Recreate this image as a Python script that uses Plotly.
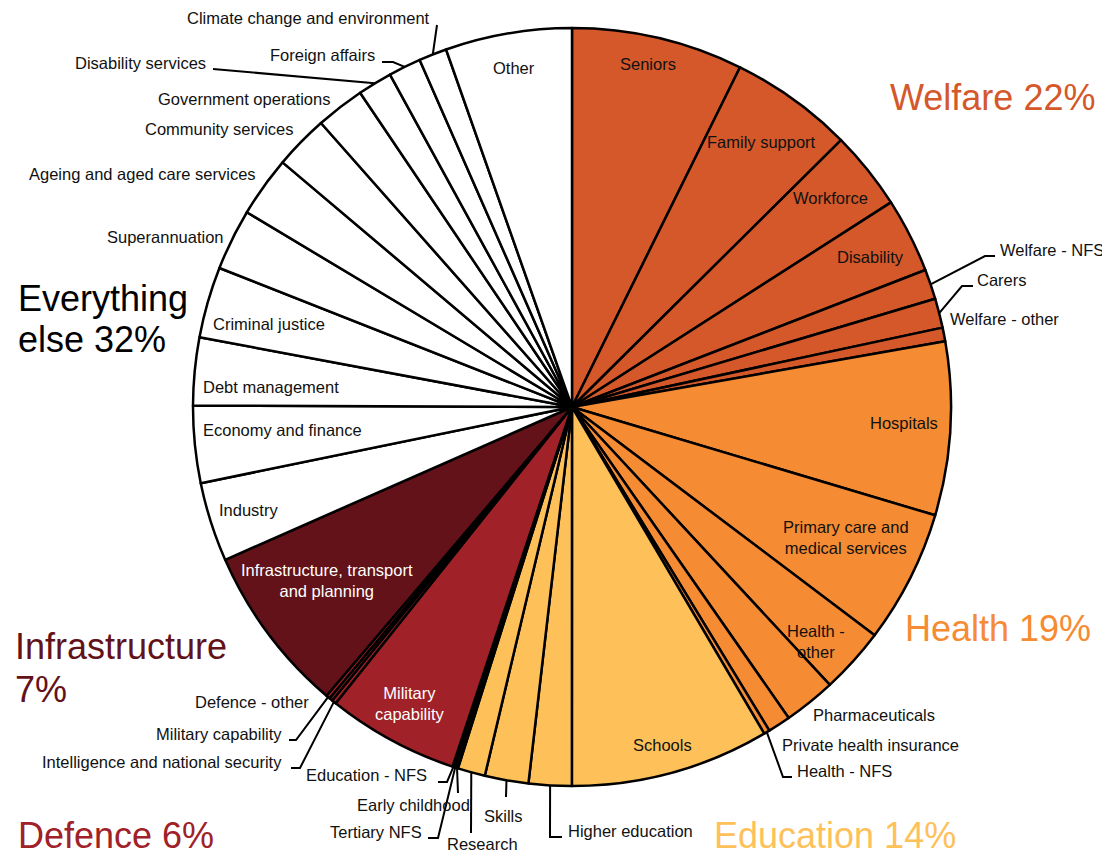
import math
import plotly.graph_objects as go

W, H = 1110, 853
OFF = 8  # the page body adds an 8px margin; draw in page pixels
CX, CY, R = 572, 407, 379  # pie centre and radius in page pixels

# ---------------- data ----------------
categories = [
    "Seniors", "Family support", "Workforce", "Disability", "Welfare - NFS", "Carers", "Welfare - other",
    "Hospitals", "Primary care and medical services", "Health - other", "Pharmaceuticals",
    "Private health insurance", "Health - NFS",
    "Schools", "Higher education", "Skills", "Research", "Early childhood", "Tertiary NFS", "Education - NFS",
    "Military capability", "Intelligence and national security", "Defence - other", "Military capability",
    "Infrastructure, transport and planning",
    "Industry", "Economy and finance", "Debt management", "Criminal justice", "Superannuation",
    "Ageing and aged care services", "Community services", "Government operations",
    "Disability services", "Foreign affairs", "Climate change and environment", "Other",
]
values = [
    7.31, 5.25, 3.36, 3.19, 1.28, 1.25, 0.58,
    7.39, 5.67, 2.81, 2.22, 0.97, 0.25,
    8.47, 1.83, 1.86, 1.17, 0.08, 0.08, 0.08,
    5.61, 0.19, 0.14, 0.17,
    7.18,
    3.38, 3.28, 2.89, 3.03, 2.61, 2.58, 2.31, 2.08, 1.47, 1.39, 1.19, 5.39,
]
groups = (["Welfare"] * 7 + ["Health"] * 6 + ["Education"] * 7 + ["Defence"] * 4
          + ["Infrastructure"] + ["Everything else"] * 12)

group_names = ["Welfare", "Health", "Education", "Defence", "Infrastructure", "Everything else"]
group_shares = [22, 19, 14, 6, 7, 32]

# ---------------- styles ----------------
group_colors = {
    "Welfare": "#D4582A",
    "Health": "#F58B33",
    "Education": "#FEC15A",
    "Defence": "#A02128",
    "Infrastructure": "#621218",
    "Everything else": "#FFFFFF",
}
title_colors = {
    "Welfare": "#D4582A",
    "Health": "#F58B33",
    "Education": "#FEC15A",
    "Defence": "#A02128",
    "Infrastructure": "#621218",
    "Everything else": "#000000",
}
FONT = "Liberation Sans, Arial, sans-serif"
TXT = "#111111"
LBL = 16.5
TITLE = 36


def px(x):
    return (x - OFF) / W


def py(y):
    return 1 - (y - OFF) / H


# mid-angle point on the circle of slice i (computed from the data)
total = sum(values)
cum = []
acc = 0.0
for v in values:
    cum.append((acc, acc + v))
    acc += v


def rim(i):
    a0, a1 = cum[i]
    ang = math.radians((a0 + a1) / 2 / total * 360)
    return CX + R * math.sin(ang), CY - R * math.cos(ang)


fig = go.Figure()
fig.add_trace(go.Pie(
    labels=[f"{i}: {c}" for i, c in enumerate(categories)],
    values=values,
    sort=False,
    direction="clockwise",
    rotation=0,
    textinfo="none",
    hovertext=categories,
    hoverinfo="text+percent",
    marker=dict(colors=[group_colors[g] for g in groups], line=dict(color="#000000", width=2.5)),
    domain=dict(x=[px(CX - R), px(CX + R)], y=[py(CY + R), py(CY - R)]),
    showlegend=False,
))

# label placement: (category index, x, y, xanchor, colour, leader elbow points)
label_layout = [
    (0, 648, 64, "center", TXT, None),
    (1, 762, 142, "center", TXT, None),
    (2, 830, 198, "center", TXT, None),
    (3, 870, 257, "center", TXT, None),
    (4, 998, 250, "left", TXT, [(995, 256), (985, 256)]),
    (5, 975, 280, "left", TXT, [(973, 286), (962, 286)]),
    (6, 948, 319, "left", TXT, None),
    (7, 904, 423, "center", TXT, None),
    (8, 846, 537, "center", TXT, None),
    (9, 816, 641, "center", TXT, None),
    (10, 811, 715, "left", TXT, None),
    (11, 780, 745, "left", TXT, None),
    (12, 795, 771, "left", TXT, [(792, 777), (783, 777)]),
    (13, 662, 745, "center", TXT, None),
    (14, 566, 831, "left", TXT, [(562, 837), (550, 837)]),
    (15, 503, 816, "center", TXT, [(506, 797)]),
    (16, 482, 844, "center", TXT, [(471, 833)]),
    (17, 355, 805, "left", TXT, [(458, 793)]),
    (18, 424, 832, "right", TXT, [(428, 838), (438, 838)]),
    (19, 429, 775, "right", TXT, [(438, 782), (447, 782)]),
    (20, 410, 703, "center", "#FFFFFF", None),
    (21, 284, 762, "right", TXT, [(291, 768), (300, 768)]),
    (22, 311, 702, "right", TXT, None),
    (23, 284, 734, "right", TXT, [(289, 740), (296, 740)]),
    (24, 327, 580, "center", "#FFFFFF", None),
    (25, 217, 510, "left", TXT, None),
    (26, 201, 430, "left", TXT, None),
    (27, 201, 387, "left", TXT, None),
    (28, 211, 324, "left", TXT, None),
    (29, 226, 237, "right", TXT, None),
    (30, 258, 174, "right", TXT, None),
    (31, 296, 129, "right", TXT, None),
    (32, 332, 99, "right", TXT, None),
    (33, 208, 63, "right", TXT, [(213, 69)]),
    (34, 377, 55, "right", TXT, [(382, 62), (393, 62)]),
    (35, 432, 18, "right", TXT, [(437, 25)]),
    (36, 514, 68, "center", TXT, None),
]
wrap = {
    "Primary care and medical services": "Primary care and<br>medical services",
    "Health - other": "Health -<br>other",
    "Infrastructure, transport and planning": "Infrastructure, transport<br>and planning",
}
annotations = []
shapes = []
for i, x, y, anchor, col, leader in label_layout:
    text = wrap.get(categories[i], categories[i])
    if i == 20:
        text = "Military<br>capability"
    annotations.append(dict(
        x=px(x), y=py(y), xref="paper", yref="paper", text=text, showarrow=False,
        xanchor=anchor, yanchor="middle", align="center",
        font=dict(family=FONT, size=LBL, color=col),
    ))
    if leader:
        pts = leader + [rim(i)]
        path = "M " + " L ".join(f"{px(a):.5f},{py(b):.5f}" for a, b in pts)
        shapes.append(dict(type="path", path=path, xref="paper", yref="paper",
                           line=dict(color="#000000", width=2)))

# group titles: one entry per text line (x, y)
title_layout = {
    "Welfare": [(888, 97)],
    "Health": [(903, 628)],
    "Education": [(712, 835)],
    "Defence": [(16, 835)],
    "Infrastructure": [(13, 646), (13, 689)],
    "Everything else": [(16, 298), (16, 340)],
}
for g, s in zip(group_names, group_shares):
    pos = title_layout[g]
    if g == "Infrastructure":
        lines = [g, f"{s}%"]
    elif g == "Everything else":
        lines = ["Everything", f"else {s}%"]
    else:
        lines = [f"{g} {s}%"]
    for (x, y), t in zip(pos, lines):
        annotations.append(dict(
            x=px(x), y=py(y), xref="paper", yref="paper", text=t, showarrow=False,
            xanchor="left", yanchor="middle", align="left",
            font=dict(family=FONT, size=TITLE, color=title_colors[g]),
        ))

fig.update_layout(
    width=W, height=H,
    margin=dict(l=0, r=0, t=0, b=0),
    paper_bgcolor="#FFFFFF",
    plot_bgcolor="#FFFFFF",
    annotations=annotations,
    shapes=shapes,
    showlegend=False,
)
fig.write_html("out.html")
